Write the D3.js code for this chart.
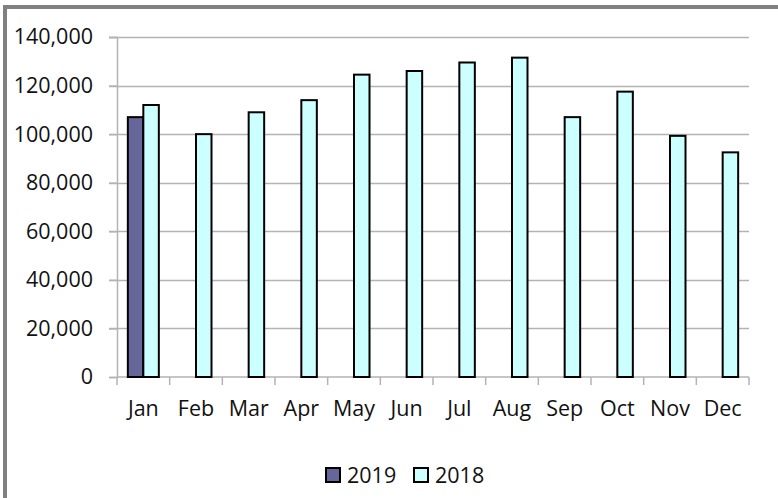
<!DOCTYPE html>
<html>
<head>
<meta charset="utf-8">
<script src="https://cdn.jsdelivr.net/npm/d3@7"></script>
<style>
  body { margin: 0; background: #fff; }
  text { font-family: "Open Sans", Lato, sans-serif; fill: #111; }
</style>
</head>
<body>
<div id="main"></div>
<script>
var months = ['Jan', 'Feb', 'Mar', 'Apr', 'May', 'Jun', 'Jul', 'Aug', 'Sep', 'Oct', 'Nov', 'Dec'];
var series_names = ['2019', '2018'];
var values_2019 = [107000, null, null, null, null, null, null, null, null, null, null, null];
var values_2018 = [112000, 100000, 109000, 114000, 124500, 126000, 129500, 131500, 107000, 117500, 99300, 92500];
var y_ticks = [0, 20000, 40000, 60000, 80000, 100000, 120000, 140000];
var series_colors = ['#666699', '#ccffff'];

function create_chart() {

  var width = 778;
  var height = 498;
  var font_size = 21.5;

  var svg = d3.select('#main').append('svg')
    .attr('width', width)
    .attr('height', height);

  // outer frame (only left and top edges visible)
  svg.append('rect')
    .attr('x', 5).attr('y', 7)
    .attr('width', width + 10).attr('height', height + 10)
    .attr('fill', 'none')
    .attr('stroke', '#808080')
    .attr('stroke-width', 4);

  var left = 117, right = 749, top = 37, bottom = 377;

  var x = d3.scaleBand()
    .domain(months)
    .range([left, right]);

  var x_inner = d3.scaleBand()
    .domain(series_names)
    .range([0, 31]);

  var y = d3.scaleLinear()
    .domain([0, 140000])
    .range([bottom, top]);

  // grid lines
  svg.selectAll('.grid')
    .data(y_ticks.slice(1))
    .enter()
    .append('line')
    .attr('x1', left - 8)
    .attr('x2', right)
    .attr('y1', function (d) { return Math.round(y(d)) + 0.5; })
    .attr('y2', function (d) { return Math.round(y(d)) + 0.5; })
    .attr('stroke', '#b3b3b3')
    .attr('stroke-width', 1.5);

  var yAxis = svg.append('g')
    .attr('transform', 'translate(' + left + ',0)')
    .call(d3.axisLeft(y).tickValues(y_ticks).tickSize(8).tickPadding(16)
      .tickFormat(d3.format(',')));
  yAxis.selectAll('line').attr('stroke', '#b3b3b3').attr('stroke-width', 1.5);
  yAxis.select('.domain').attr('stroke', '#b3b3b3').attr('stroke-width', 1.5);
  yAxis.selectAll('text').attr('font-size', font_size).attr('fill', '#111')
    .attr('font-family', '"Open Sans", sans-serif');

  var xAxis = svg.append('g')
    .attr('transform', 'translate(0,' + bottom + ')');
  xAxis.append('line')
    .attr('x1', left).attr('x2', right)
    .attr('y1', 0).attr('y2', 0)
    .attr('stroke', '#b3b3b3').attr('stroke-width', 1.5);
  xAxis.selectAll('.xtick')
    .data(d3.range(months.length + 1))
    .enter()
    .append('line')
    .attr('x1', function (d) { return left + d * x.step(); })
    .attr('x2', function (d) { return left + d * x.step(); })
    .attr('y1', 0).attr('y2', 8)
    .attr('stroke', '#b3b3b3').attr('stroke-width', 1.5);
  xAxis.selectAll('.xlabel')
    .data(months)
    .enter()
    .append('text')
    .attr('x', function (d) { return x(d) + x.bandwidth() / 2; })
    .attr('y', 39)
    .attr('text-anchor', 'middle')
    .attr('font-size', font_size)
    .text(function (d) { return d; });

  var all_series = [values_2019, values_2018];

  all_series.forEach(function (vals, si) {
    svg.selectAll('.bar' + si)
      .data(vals.map(function (v, i) { return { m: months[i], v: v }; })
        .filter(function (d) { return d.v !== null; }))
      .enter()
      .append('rect')
      .attr('x', function (d) { return x(d.m) + (x.bandwidth() - 31) / 2 + x_inner(series_names[si]); })
      .attr('width', x_inner.bandwidth())
      .attr('y', function (d) { return y(d.v); })
      .attr('height', function (d) { return y(0) - y(d.v); })
      .attr('fill', series_colors[si])
      .attr('stroke', '#000')
      .attr('stroke-width', 2);
  });

  // legend
  var legend = svg.append('g').attr('transform', 'translate(326,468)');
  var lx = [0, 88];
  series_names.forEach(function (name, i) {
    legend.append('rect')
      .attr('x', lx[i]).attr('y', 0)
      .attr('width', 14).attr('height', 14)
      .attr('fill', series_colors[i])
      .attr('stroke', '#000')
      .attr('stroke-width', 2);
    legend.append('text')
      .attr('x', lx[i] + 21).attr('y', 15)
      .attr('font-size', font_size)
      .text(name);
  });
}

create_chart();
</script>
</body>
</html>
